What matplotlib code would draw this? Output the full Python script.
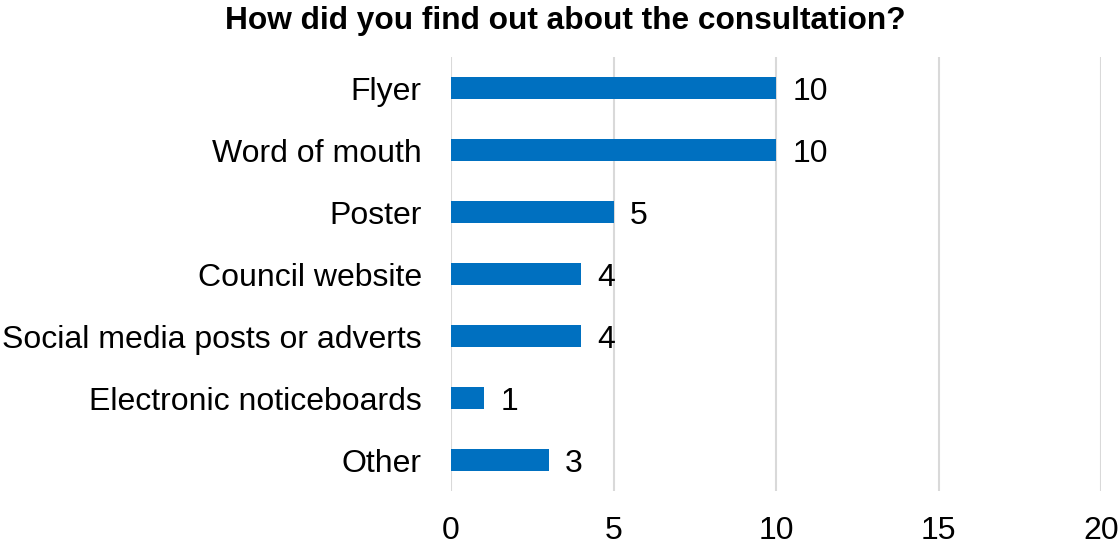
import matplotlib.pyplot as plt

categories = ['Flyer', 'Word of mouth', 'Poster', 'Council website',
              'Social media posts or adverts', 'Electronic noticeboards', 'Other']
counts = [10, 10, 5, 4, 4, 1, 3]
xticks = [0, 5, 10, 15, 20]

plt.rcParams['font.family'] = ['Liberation Sans', 'DejaVu Sans']

fig = plt.figure(figsize=(11.18, 5.45), dpi=100)
ax = fig.add_axes([451/1118, 1 - 491/545, 650/1118, 434/545])

ypos = list(range(len(categories)))
ax.barh(ypos, counts, height=0.36, color='#0070C0', zorder=3)
for y, v in zip(ypos, counts):
    ax.annotate(str(v), (v, y), xytext=(12, 0), textcoords='offset points',
                va='center_baseline', ha='left', fontsize=23, color='#000000')

ax.set_yticks(ypos)
ax.set_yticklabels(categories)
ax.set_ylim(len(categories) - 0.5, -0.5)
ax.set_xlim(0, 20)
ax.set_xticks(xticks)

ax.tick_params(axis='both', length=0, labelsize=23)
ax.tick_params(axis='y', pad=21)
ax.tick_params(axis='x', pad=18)
ax.xaxis.grid(True, color='#D9D9D9', linewidth=1.5, zorder=0)
for s in ax.spines.values():
    s.set_visible(False)

fig.text(0.506, 1 - 21/545, 'How did you find out about the consultation?',
         ha='center', va='center', fontsize=22.8, fontweight='bold')

fig.savefig('out.png', dpi=100)
